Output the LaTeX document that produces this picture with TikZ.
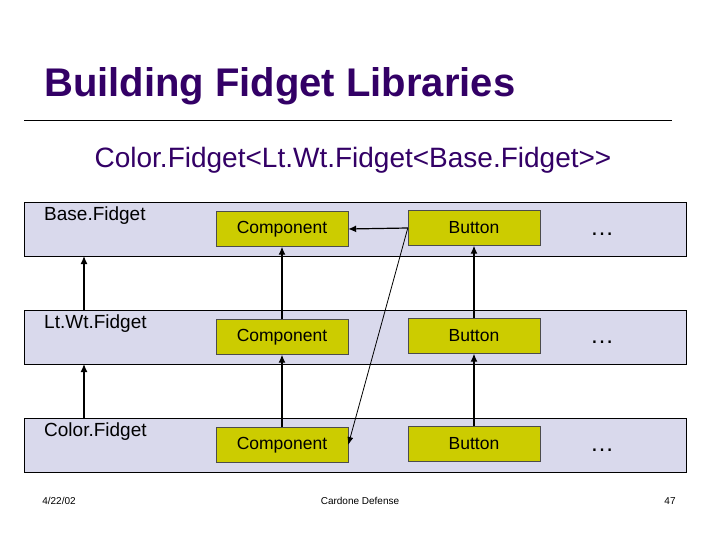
\documentclass[tikz,border=0pt]{standalone}
\usepackage{fontspec}
\setmainfont{Liberation Sans}
\begin{document}
\begin{tikzpicture}[x=1pt,y=-1pt,
  band/.style={draw=black,fill=bandc,line width=0.8pt},
  box/.style={draw=black!70,fill=boxc,minimum width=132pt,minimum height=35pt,inner sep=0pt,font=\fontsize{17.5}{20}\selectfont},
  lbl/.style={anchor=north west,font=\fontsize{19}{22}\selectfont,inner sep=0pt},
  arr/.style={-{Latex[length=8pt,width=7pt]},line width=1.2pt},
  dots/.style={font=\fontsize{24}{26}\selectfont}]
\usetikzlibrary{arrows.meta}
\definecolor{bandc}{HTML}{D9D9EC}
\definecolor{boxc}{HTML}{CCCC00}
\definecolor{titlec}{HTML}{330066}
\useasboundingbox[fill=white] (0,0) rectangle (720,540);
\node[anchor=west,text=titlec,font=\bfseries\fontsize{40}{44}\selectfont,inner sep=0pt] (title) at (44,86) {Building Fidget Libraries};
\draw[line width=0.6pt] (24,120) -- (672,120);
\node[text=titlec,font=\fontsize{28}{30}\selectfont,inner sep=0pt] (sub) at (353,160) {Color.Fidget<Lt.Wt.Fidget<Base.Fidget{>}{>}};
\foreach \y/\n in {202/1,310/2,418/3}{
  \draw[band] (24,\y) rectangle (686,\y+54);
  \node[box] (c\n) at (282,\y+27) {Component};
  \node[box] (b\n) at (474,\y+26) {Button};
  \node[dots] (d\n) at (602,\y+32) {\dots};
}
\node[lbl] (l1) at (44,207) {Base.Fidget};
\node[lbl] (l2) at (44,315) {Lt.Wt.Fidget};
\node[lbl] (l3) at (44,423) {Color.Fidget};
\coordinate (t1) at (84,256); \coordinate (s1) at (84,310);
\coordinate (t2) at (84,364); \coordinate (s2) at (84,418);
\draw[arr] (s1) -- (t1);
\draw[arr] (s2) -- (t2);
\draw[arr] (c2.north) -- (c1.south);
\draw[arr] (c3.north) -- (c2.south);
\draw[arr] (b2.north) -- (b1.south);
\draw[arr] (b3.north) -- (b2.south);
\draw[arr] (b1.west) -- (c1.east);
\draw[-{Latex[length=8pt,width=6pt]},line width=0.8pt] (b1.west) -- (c3.east);
\node[font=\fontsize{10}{12}\selectfont] (date) at (59,501) {4/22/02};
\node[font=\fontsize{10}{12}\selectfont] (foot) at (360,501) {Cardone Defense};
\node[font=\fontsize{10}{12}\selectfont] (pg) at (670,501) {47};
\end{tikzpicture}
\end{document}
